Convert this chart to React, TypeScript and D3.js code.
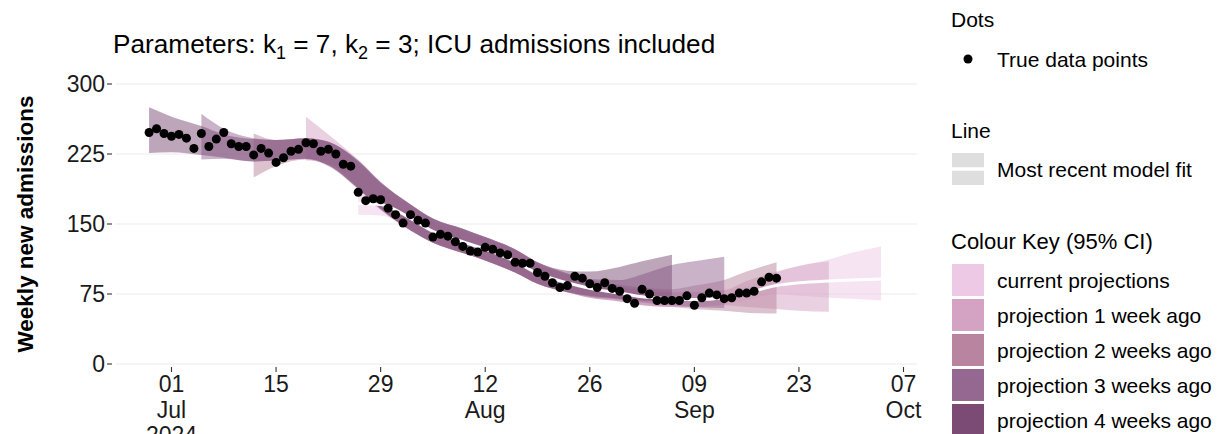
import React from "react";
import * as d3 from "d3";

// ---------- data ----------
const pointStart = "2024-06-28";
const admissions = [
  248, 252, 247, 244, 246, 242, 231, 247, 233, 241, 248, 236, 233, 233, 224, 231, 226, 216, 221, 228,
  230, 237, 236, 228, 230, 225, 214, 212, 184, 175, 177, 176, 167, 160, 151, 160, 154, 151, 136, 139,
  137, 131, 126, 121, 120, 125, 123, 119, 117, 109, 108, 108, 98, 94, 87, 82, 84, 94, 92, 86,
  82, 87, 81, 78, 70, 65, 80, 75, 68, 68, 68, 68, 73, 63, 71, 76, 74, 70, 71, 76,
  76, 78, 88, 93, 92,
];

const knotDates = [
  "2024-06-28", "2024-07-01", "2024-07-05", "2024-07-08", "2024-07-12", "2024-07-15", "2024-07-19",
  "2024-07-22", "2024-07-26", "2024-07-29", "2024-08-02", "2024-08-05", "2024-08-09", "2024-08-12",
  "2024-08-16", "2024-08-19", "2024-08-23", "2024-08-26", "2024-08-30", "2024-09-02", "2024-09-06",
  "2024-09-09", "2024-09-13", "2024-09-16", "2024-09-20", "2024-09-23", "2024-09-27", "2024-09-30",
  "2024-10-04",
];

const N = null;
const proj4Upper = [275, 265, 255, 246, 241, 240, 242, 238, 218, 195, 171, 156, 145, 136, 123, 109, 100, 99, 104, 110, 117, N, N, N, N, N, N, N, N];
const proj4Lower = [226, 227, 224, 221, 217, 218, 220, 213, 188, 166, 143, 130, 119, 111, 98, 86, 77, 73, 70, 68, 66, N, N, N, N, N, N, N, N];
const proj3Upper = [N, N, 268, 252, 242, 240, 242, 238, 217, 194, 171, 156, 145, 136, 123, 109, 97, 91, 90, 96, 106, 110, 115, N, N, N, N, N, N];
const proj3Lower = [N, N, 219, 220, 217, 218, 220, 213, 188, 166, 143, 130, 119, 111, 98, 86, 77, 72, 69, 66, 63, 61, 60, N, N, N, N, N, N];
const proj2Upper = [N, N, N, N, 247, 240, 242, 238, 217, 194, 171, 156, 145, 136, 123, 109, 97, 90, 85, 82, 80, 84, 90, 99, 109, N, N, N, N];
const proj2Lower = [N, N, N, N, 200, 212, 219, 212, 187, 165, 143, 130, 119, 111, 98, 86, 77, 71, 67, 63, 61, 59, 57, 55, 54, N, N, N, N];
const proj1Upper = [N, N, N, N, N, N, 265, 246, 219, 195, 171, 155, 144, 135, 122, 108, 96, 88, 83, 79, 77, 77, 79, 89, 99, 105, 110, N, N];
const proj1Lower = [N, N, N, N, N, N, 218, 215, 189, 166, 144, 130, 119, 111, 98, 86, 77, 71, 67, 63, 61, 61, 63, 61, 59, 57, 56, N, N];
const currUpper = [N, N, N, N, N, N, N, N, 184, 183, 167, 152, 141, 133, 120, 106, 95, 88, 83, 79, 77, 77, 79, 83, 98, 105, 112, 119, 126];
const currLower = [N, N, N, N, N, N, N, N, 160, 159, 145, 132, 121, 113, 100, 88, 78, 72, 68, 64, 62, 62, 64, 68, 75, 73, 71, 70, 68];
const currFit = [N, N, N, N, N, N, N, N, 172, 171, 156, 142, 131, 123, 110, 97, 87, 81, 76, 72, 70, 69, 71, 76, 84, 87, 89, 90, 91];

const keyLabels = [
  "current projections",
  "projection 1 week ago",
  "projection 2 weeks ago",
  "projection 3 weeks ago",
  "projection 4 weeks ago",
];
const keyColors = ["#EEC9E5", "#D4A3C4", "#B9849F", "#956891", "#7C4B75"];

const yTicks = [0, 75, 150, 225, 300];
const xTickDates = ["2024-07-01", "2024-07-15", "2024-07-29", "2024-08-12", "2024-08-26", "2024-09-09", "2024-09-23", "2024-10-07"];

// ---------- layout ----------
const W = 1221;
const H = 434;
const panel = { left: 116, right: 917 };
const FONT = "'Liberation Sans', Arial, Helvetica, sans-serif";

const parse = d3.utcParse("%Y-%m-%d");

export default function App() {
  const x = d3
    .scaleUtc()
    .domain([parse("2024-07-01")!, parse("2024-10-07")!])
    .range([171.5, 903.5]);
  const y = d3.scaleLinear().domain([0, 300]).range([364, 84]);

  const knots = knotDates.map((s) => parse(s)!);
  const start = parse(pointStart)!;
  const points = admissions.map((v, i) => ({ date: d3.utcDay.offset(start, i), v }));

  // drawn newest first so the older (darker) fits sit on top
  const ribbons = [
    { up: currUpper, lo: currLower, color: keyColors[0] },
    { up: proj1Upper, lo: proj1Lower, color: keyColors[1] },
    { up: proj2Upper, lo: proj2Lower, color: keyColors[2] },
    { up: proj3Upper, lo: proj3Lower, color: keyColors[3] },
    { up: proj4Upper, lo: proj4Lower, color: keyColors[4] },
  ];

  type R = { d: Date; up: number | null; lo: number | null };
  const area = d3
    .area<R>()
    .defined((r) => r.up != null && r.lo != null)
    .x((r) => x(r.d))
    .y0((r) => y(r.lo as number))
    .y1((r) => y(r.up as number))
    .curve(d3.curveMonotoneX);

  type L = { d: Date; v: number | null };
  const line = d3
    .line<L>()
    .defined((r) => r.v != null)
    .x((r) => x(r.d))
    .y((r) => y(r.v as number))
    .curve(d3.curveMonotoneX);

  const fmtDay = d3.utcFormat("%d");
  const fmtMon = d3.utcFormat("%b");
  const tickFs = 23;

  return (
    <svg
      width={W}
      height={H}
      style={{ position: "absolute", left: 0, top: 0, background: "#fff" }}
      fontFamily={FONT}
    >
      {/* title */}
      <text x={113} y={53} fontSize={26.2} fill="#000">
        Parameters: k
        <tspan fontSize={18} dy={6}>1</tspan>
        <tspan dy={-6}> = 7, k</tspan>
        <tspan fontSize={18} dy={6}>2</tspan>
        <tspan dy={-6}> = 3; ICU admissions included</tspan>
      </text>

      {/* gridlines */}
      {yTicks.map((t) => (
        <line key={t} x1={panel.left} x2={panel.right} y1={y(t)} y2={y(t)} stroke="#EBEBEB" strokeWidth={1.1} />
      ))}

      {/* ribbons */}
      {ribbons.map((r, i) => (
        <path
          key={i}
          d={area(knots.map((d, j) => ({ d, up: r.up[j], lo: r.lo[j] })))!}
          fill={r.color}
          fillOpacity={0.5}
        />
      ))}

      {/* most recent fit line */}
      <path
        d={line(knots.map((d, j) => ({ d, v: currFit[j] })))!}
        fill="none"
        stroke="#fff"
        strokeWidth={3}
      />

      {/* points */}
      {points.map((p, i) => (
        <circle key={i} cx={x(p.date)} cy={y(p.v)} r={4.5} fill="#000" />
      ))}

      {/* y axis */}
      {yTicks.map((t) => (
        <g key={t}>
          <line x1={107} x2={112} y1={y(t)} y2={y(t)} stroke="#333" strokeWidth={1.1} />
          <text x={105} y={y(t)} dy="0.36em" textAnchor="end" fontSize={tickFs} fill="#1a1a1a">
            {t}
          </text>
        </g>
      ))}
      <text
        transform={`translate(33,${(y(0) + y(300)) / 2}) rotate(-90)`}
        textAnchor="middle"
        fontSize={22.5}
        fontWeight="bold"
        fill="#000"
      >
        Weekly new admissions
      </text>

      {/* x axis */}
      {xTickDates.map((s, i) => {
        const d = parse(s)!;
        const cx = x(d);
        const prev = i > 0 ? parse(xTickDates[i - 1])! : null;
        const showMonth = !prev || prev.getUTCMonth() !== d.getUTCMonth();
        return (
          <g key={s}>
            <line x1={cx} x2={cx} y1={367} y2={372} stroke="#333" strokeWidth={1.1} />
            <text x={cx} y={392} textAnchor="middle" fontSize={tickFs} fill="#1a1a1a">
              {fmtDay(d)}
            </text>
            {showMonth && (
              <text x={cx} y={418} textAnchor="middle" fontSize={tickFs} fill="#1a1a1a">
                {fmtMon(d)}
              </text>
            )}
            {i === 0 && (
              <text x={cx} y={443} textAnchor="middle" fontSize={tickFs} fill="#1a1a1a">
                {d.getUTCFullYear()}
              </text>
            )}
          </g>
        );
      })}

      {/* legend */}
      <g fontSize={21} fill="#000">
        <text x={951} y={27}>Dots</text>
        <circle cx={968} cy={59} r={4.5} fill="#000" />
        <text x={997} y={67}>True data points</text>

        <text x={951} y={138}>Line</text>
        <rect x={952} y={153} width={32} height={32} fill="#DEDEDE" />
        <line x1={952} x2={984} y1={169} y2={169} stroke="#fff" strokeWidth={3.5} />
        <text x={997} y={177}>Most recent model fit</text>

        <text x={951} y={249} fontSize={22}>Colour Key (95% CI)</text>
        {keyLabels.map((lab, i) => (
          <g key={lab}>
            <rect x={952} y={264 + i * 35} width={32} height={32} fill={keyColors[i]} />
            <text x={997} y={288 + i * 35}>{lab}</text>
          </g>
        ))}
      </g>
    </svg>
  );
}
